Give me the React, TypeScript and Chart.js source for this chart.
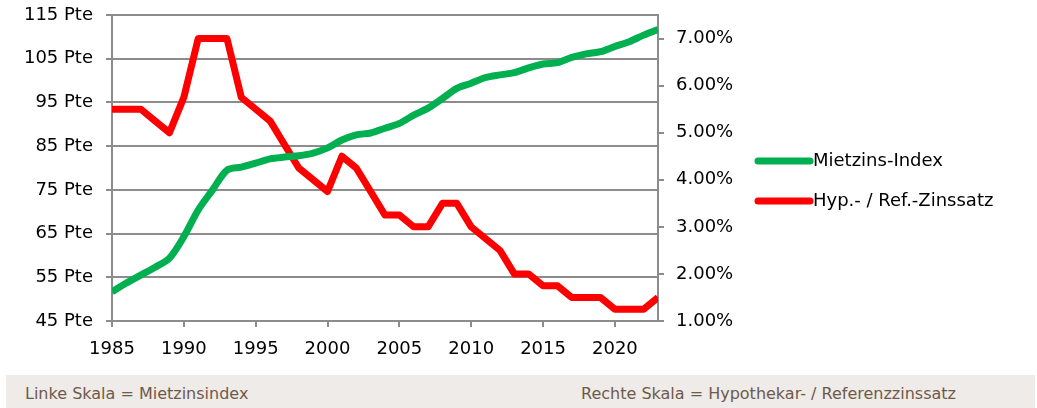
import React, { useEffect, useRef } from "react";
import { Chart, registerables } from "chart.js";

Chart.register(...registerables);

const years = [
  1985, 1986, 1987, 1988, 1989, 1990, 1991, 1992, 1993, 1994,
  1995, 1996, 1997, 1998, 1999, 2000, 2001, 2002, 2003, 2004,
  2005, 2006, 2007, 2008, 2009, 2010, 2011, 2012, 2013, 2014,
  2015, 2016, 2017, 2018, 2019, 2020, 2021, 2022, 2023,
];

const mietzinsIndex = [
  51.7, 53.7, 55.5, 57.3, 59.4, 64.3, 70.4, 75.0, 79.5, 80.2,
  81.1, 82.1, 82.5, 82.8, 83.4, 84.6, 86.4, 87.6, 88.0, 89.1,
  90.2, 92.1, 93.7, 95.9, 98.2, 99.4, 100.7, 101.3, 101.8, 102.9,
  103.8, 104.1, 105.3, 106.1, 106.6, 107.8, 108.9, 110.4, 111.7,
];

const zinssatz = [
  5.5, 5.5, 5.5, 5.25, 5.0, 5.75, 7.0, 7.0, 7.0, 5.75,
  5.5, 5.25, 4.75, 4.25, 4.0, 3.75, 4.5, 4.25, 3.75, 3.25,
  3.25, 3.0, 3.0, 3.5, 3.5, 3.0, 2.75, 2.5, 2.0, 2.0,
  1.75, 1.75, 1.5, 1.5, 1.5, 1.25, 1.25, 1.25, 1.5,
];

const seriesNames = ["Mietzins-Index", "Hyp.- / Ref.-Zinssatz"];
const seriesColors = ["#00B050", "#FF0000"];
const footerLeft = "Linke Skala = Mietzinsindex";
const footerRight = "Rechte Skala = Hypothekar- / Referenzzinssatz";

const FONT = "'DejaVu Sans', sans-serif";
const GRID = "#8c8c8c";

const legendPlugin = {
  id: "customLegend",
  afterDraw(chart: any) {
    const ctx = chart.ctx;
    ctx.save();
    const ys = [161, 201];
    seriesNames.forEach((name, i) => {
      ctx.strokeStyle = seriesColors[i];
      ctx.lineWidth = 7;
      ctx.lineCap = "round";
      ctx.beginPath();
      ctx.moveTo(758, ys[i]);
      ctx.lineTo(810, ys[i]);
      ctx.stroke();
      ctx.fillStyle = "#000";
      ctx.font = `18px ${FONT}`;
      ctx.textBaseline = "middle";
      ctx.textAlign = "left";
      ctx.fillText(name, 813, ys[i]);
    });
    ctx.restore();
  },
};

const fitY = (w: number) => (s: any) => {
  s.width = w;
  s.paddingTop = 0;
  s.paddingBottom = 0;
};

export default function App() {
  const ref = useRef<HTMLCanvasElement | null>(null);
  useEffect(() => {
    document.body.style.margin = "0";
    document.body.style.overflow = "hidden";
    if (!ref.current) return;
    const chart = new Chart(ref.current, {
      type: "line",
      data: {
        datasets: [
          {
            label: seriesNames[0],
            data: years.map((y, i) => ({ x: y, y: mietzinsIndex[i] })),
            borderColor: seriesColors[0],
            backgroundColor: seriesColors[0],
            borderWidth: 7,
            pointRadius: 0,
            tension: 0.3,
            yAxisID: "yL",
            borderJoinStyle: "round",
          },
          {
            label: seriesNames[1],
            data: years.map((y, i) => ({ x: y, y: zinssatz[i] })),
            borderColor: seriesColors[1],
            backgroundColor: seriesColors[1],
            borderWidth: 7,
            pointRadius: 0,
            tension: 0,
            yAxisID: "yR",
            borderJoinStyle: "round",
          },
        ],
      },
      options: {
        responsive: false,
        animation: false,
        devicePixelRatio: 1,
        layout: { padding: { top: 15, left: 0, right: 0, bottom: 0 } },
        plugins: { legend: { display: false }, tooltip: { enabled: false } },
        scales: {
          x: {
            type: "linear",
            min: 1985,
            max: 2023,
            afterFit: (s: any) => { s.height = 54; s.paddingLeft = 0; s.paddingRight = 0; },
            ticks: {
              stepSize: 5,
              includeBounds: false,
              color: "#000",
              font: { family: FONT, size: 18 },
              padding: 12,
              maxRotation: 0,
              callback: (v: any) => String(v),
            },
            grid: { drawOnChartArea: false, color: GRID, lineWidth: 2, tickLength: 6 },
            border: { color: GRID, width: 2 },
          },
          yL: {
            type: "linear",
            position: "left",
            min: 45,
            max: 115,
            afterFit: fitY(112),
            ticks: {
              stepSize: 10,
              color: "#000",
              font: { family: FONT, size: 18 },
              padding: 13,
              callback: (v: any) => `${v} Pte`,
            },
            grid: { color: GRID, lineWidth: 2, tickLength: 6 },
            border: { color: GRID, width: 2 },
          },
          yR: {
            type: "linear",
            position: "right",
            min: 1,
            max: 7.5,
            afterFit: fitY(379),
            ticks: {
              stepSize: 1,
              includeBounds: false,
              color: "#000",
              font: { family: FONT, size: 18 },
              padding: 12,
              callback: (v: any) => `${Number(v).toFixed(2)}%`,
            },
            grid: { drawOnChartArea: false, color: GRID, lineWidth: 2, tickLength: 6 },
            border: { color: GRID, width: 2 },
          },
        },
      },
      plugins: [legendPlugin],
    } as any);
    return () => chart.destroy();
  }, []);

  return (
    <div style={{ position: "relative", width: 1037, height: 408, overflow: "hidden", background: "#fff" }}>
      <canvas ref={ref} width={1037} height={375} style={{ position: "absolute", left: 0, top: 0, width: 1037, height: 375 }} />
      <div
        style={{
          position: "absolute",
          left: 6,
          top: 375,
          width: 1029,
          height: 33,
          background: "#EFEBE8",
          color: "#6E5A4B",
          fontFamily: FONT,
          fontSize: 16,
        }}
      >
        <span style={{ position: "absolute", left: 19, top: 9, lineHeight: "20px", whiteSpace: "nowrap" }}>{footerLeft}</span>
        <span style={{ position: "absolute", right: 79, top: 9, lineHeight: "20px", whiteSpace: "nowrap" }}>{footerRight}</span>
      </div>
    </div>
  );
}
